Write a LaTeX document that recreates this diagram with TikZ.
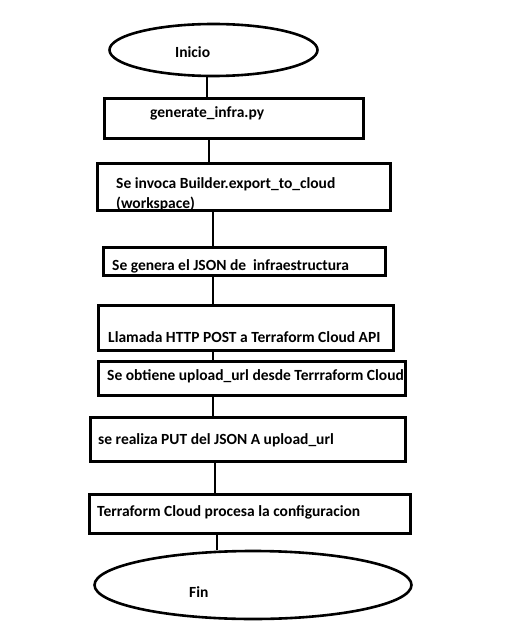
\documentclass[tikz,border=0pt]{standalone}
\usepackage{fontspec}
\setmainfont{Carlito}
\usepackage{tikz}
\usetikzlibrary{shapes.geometric, positioning}

\begin{document}
\begin{tikzpicture}[x=1pt, y=-1pt,
    stepbox/.style={draw, line width=2.6pt, inner sep=0pt},
    endbox/.style={draw, ellipse, line width=2.6pt, inner sep=0pt},
    steptext/.style={anchor=west, inner sep=0pt, font=\fontsize{15.5}{20}\selectfont\bfseries, align=left},
    conn/.style={line width=2.6pt}
]
    \useasboundingbox (0,0) rectangle (530,636);

    % start and end ellipses
    \node[endbox, minimum width=208pt, minimum height=52pt] (ini) at (213.5,50) {};
    \node[endbox, minimum width=317pt, minimum height=68pt] (fin) at (253,585) {};

    % the steps
    \node[stepbox, minimum width=259pt, minimum height=40pt] (gen) at (234,118.5) {};
    \node[stepbox, minimum width=293pt, minimum height=47pt] (invoke) at (244,187) {};
    \node[stepbox, minimum width=282pt, minimum height=28pt] (json) at (244.5,261.5) {};
    \node[stepbox, minimum width=295pt, minimum height=45pt] (post) at (246,328) {};
    \node[stepbox, minimum width=307pt, minimum height=34pt] (upload) at (252,378.5) {};
    \node[stepbox, minimum width=315pt, minimum height=44pt] (put) at (248,439.5) {};
    \node[stepbox, minimum width=321pt, minimum height=39pt] (proc) at (250,514) {};

    % texts
    \node[steptext] (iniText) at (175,52) {Inicio};
    \node[steptext] (genText) at (150,113) {generate\_infra.py};
    \node[steptext] (invokeText) at (116,194) {Se invoca Builder.export\_to\_cloud\\(workspace)};
    \node[steptext] (jsonText) at (112,266) {Se genera el JSON de \ infraestructura};
    \node[steptext] (postText) at (108,337) {Llamada HTTP POST a Terraform Cloud API};
    \node[steptext] (uploadText) at (107,376) {Se obtiene upload\_url desde Terrraform Cloud};
    \node[steptext] (putText) at (98,440) {se realiza PUT del JSON A upload\_url};
    \node[steptext] (procText) at (97,512) {Terraform Cloud procesa la configuracion};
    \node[steptext] (finText) at (189,592) {Fin};

    % connectors
    \draw[conn] ([xshift=-6.5pt]ini.south) -- ([xshift=-27pt]gen.north);
    \draw[conn] ([xshift=-25pt]gen.south) -- ([xshift=-35pt]invoke.north);
    \draw[conn] ([xshift=-31pt]invoke.south) -- ([xshift=-31.5pt]json.north);
    \draw[conn] ([xshift=-31.5pt]json.south) -- ([xshift=-33pt]post.north);
    \draw[conn] ([xshift=-33pt]post.south) -- ([xshift=-39pt]upload.north);
    \draw[conn] ([xshift=-39pt]upload.south) -- ([xshift=-35pt]put.north);
    \draw[conn] ([xshift=-33pt]put.south) -- ([xshift=-35pt]proc.north);
    \draw[conn] ([xshift=-33pt]proc.south) -- ([xshift=-36pt]fin.north);
\end{tikzpicture}
\end{document}
